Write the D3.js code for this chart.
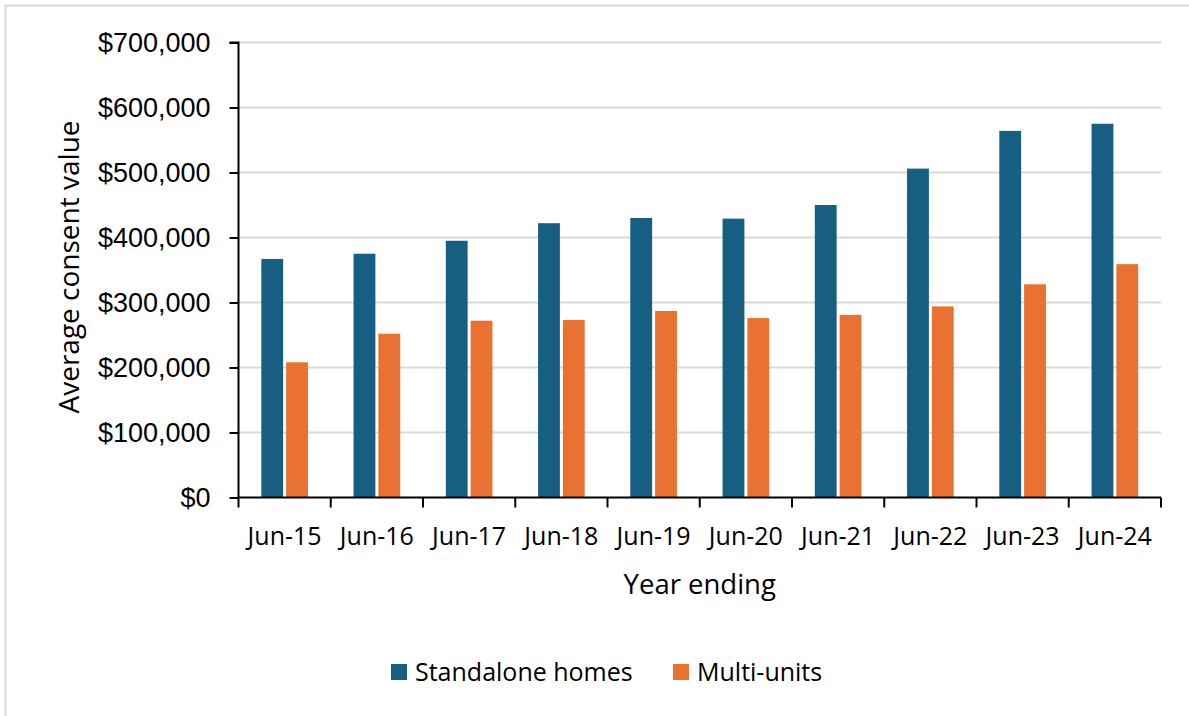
<!DOCTYPE html>
<html>
<head>
<meta charset="utf-8">
<script src="https://cdn.jsdelivr.net/npm/d3@7"></script>
<style>
    body { margin: 0; background: #fff; }
    svg { display: block; }
</style>
</head>
<body>
<div id="chart"></div>
<script>
// data
var years = ['Jun-15', 'Jun-16', 'Jun-17', 'Jun-18', 'Jun-19', 'Jun-20', 'Jun-21', 'Jun-22', 'Jun-23', 'Jun-24'];
var standalone = [367000, 375000, 395000, 422000, 430000, 429000, 450000, 506000, 564000, 575000];
var multiUnits = [208000, 252000, 272000, 273000, 287000, 276000, 281000, 294000, 328000, 359000];
var seriesNames = ['Standalone homes', 'Multi-units'];
var yTicks = [0, 100000, 200000, 300000, 400000, 500000, 600000, 700000];

var width = 1189;
var height = 716;
var padding = {top: 42.5, right: 28, bottom: 218.5, left: 238.5};
var colors = ['#175f82', '#e97233'];

var svg = d3.select('#chart')
    .append('svg')
    .attr('width', width)
    .attr('height', height);

// outer frame (only top and left edges show)
svg.append('rect')
    .attr('x', 5.5).attr('y', 5.5)
    .attr('width', 1200).attr('height', 730)
    .attr('fill', '#fff')
    .attr('stroke', '#d9d9d9')
    .attr('stroke-width', 2);

var plotW = width - padding.left - padding.right;
var plotH = height - padding.top - padding.bottom;

var xScale = d3.scaleBand()
    .domain(years)
    .range([0, plotW]);
var inner = d3.scaleBand()
    .domain([0, 1])
    .range([22.8, xScale.bandwidth() - 22.8])
    .paddingInner(0.12);
var yScale = d3.scaleLinear()
    .domain([0, 700000])
    .range([plotH, 0]);

var g = svg.append('g')
    .attr('transform', 'translate(' + padding.left + ',' + padding.top + ')');

// gridlines
g.append('g')
    .selectAll('line')
    .data(yTicks.slice(1))
    .enter()
    .append('line')
    .attr('x1', 0).attr('x2', plotW)
    .attr('y1', function (d) { return yScale(d); })
    .attr('y2', function (d) { return yScale(d); })
    .attr('stroke', '#d9d9d9')
    .attr('stroke-width', 2);

// bars
var data = [standalone, multiUnits];
data.forEach(function (vals, s) {
    g.append('g')
        .selectAll('rect')
        .data(vals)
        .enter()
        .append('rect')
        .attr('x', function (d, i) { return xScale(years[i]) + inner(s); })
        .attr('y', function (d) { return yScale(d); })
        .attr('width', inner.bandwidth())
        .attr('height', function (d) { return plotH - yScale(d); })
        .attr('fill', colors[s]);
});

// y axis
var yAxis = d3.axisLeft(yScale)
    .tickValues(yTicks)
    .tickSize(9)
    .tickPadding(19)
    .tickFormat(function (d) { return '$' + d3.format(',')(d); });
var ya = g.append('g').call(yAxis);
ya.select('.domain').attr('stroke', '#000').attr('stroke-width', 2).attr('d', 'M-9,0H0V' + plotH);
ya.selectAll('.tick line').attr('stroke', '#000').attr('stroke-width', 2);
ya.selectAll('.tick text')
    .attr('fill', '#000')
    .style('font-family', '"Liberation Sans", Arial, sans-serif')
    .style('font-size', '27px');

// x axis: ticks sit on category boundaries
var xa = g.append('g')
    .attr('transform', 'translate(0,' + plotH + ')');
xa.append('line')
    .attr('x1', 0).attr('x2', plotW)
    .attr('stroke', '#000').attr('stroke-width', 2);
xa.selectAll('.xtick')
    .data(years.concat(['end']))
    .enter()
    .append('line')
    .attr('class', 'xtick')
    .attr('x1', function (d, i) { return i * xScale.step(); })
    .attr('x2', function (d, i) { return i * xScale.step(); })
    .attr('y1', 0).attr('y2', 10)
    .attr('stroke', '#000').attr('stroke-width', 2);
xa.selectAll('.xlab')
    .data(years)
    .enter()
    .append('text')
    .attr('class', 'xlab')
    .attr('x', function (d) { return xScale(d) + xScale.bandwidth() / 2; })
    .attr('y', 47)
    .attr('text-anchor', 'middle')
    .style('font-family', '"Open Sans", sans-serif')
    .style('font-size', '25px')
    .text(function (d) { return d; });

// axis titles
svg.append('text')
    .attr('transform', 'translate(79,' + (padding.top + plotH / 2 - 3) + ') rotate(-90)')
    .attr('text-anchor', 'middle')
    .style('font-family', '"Open Sans", sans-serif')
    .style('font-size', '28px')
    .text('Average consent value');
svg.append('text')
    .attr('x', padding.left + plotW / 2)
    .attr('y', 594)
    .attr('text-anchor', 'middle')
    .style('font-family', '"Open Sans", sans-serif')
    .style('font-size', '27.5px')
    .text('Year ending');

// legend
var legendX = [391, 673];
var legend = svg.append('g')
    .selectAll('g')
    .data(seriesNames)
    .enter()
    .append('g')
    .attr('transform', function (d, i) { return 'translate(' + legendX[i] + ',664)'; });
legend.append('rect')
    .attr('width', 16).attr('height', 16)
    .attr('fill', function (d, i) { return colors[i]; });
legend.append('text')
    .attr('x', 24)
    .attr('y', 17)
    .style('font-family', '"Open Sans", sans-serif')
    .style('font-size', '25px')
    .text(function (d) { return d; });
</script>
</body>
</html>
